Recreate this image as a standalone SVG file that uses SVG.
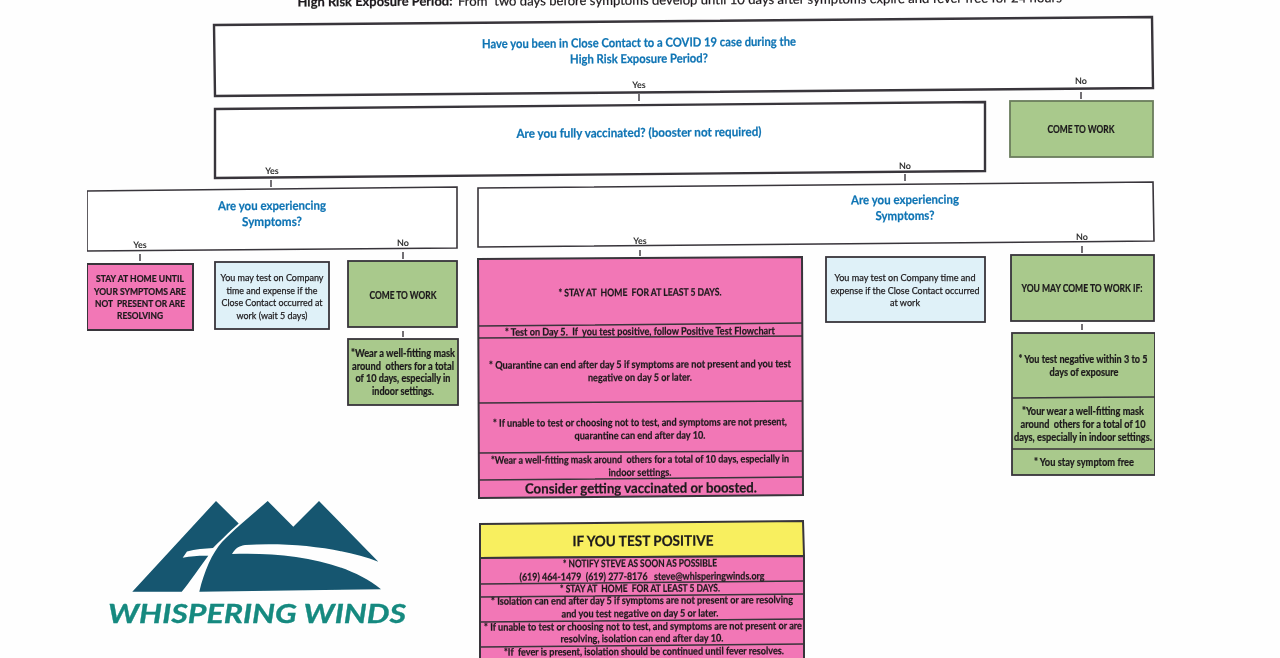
<svg xmlns="http://www.w3.org/2000/svg" width="1280" height="658" viewBox="0 0 1280 658">
<style>
text{font-family:Lato,"Open Sans","Liberation Sans",sans-serif;font-weight:700;text-anchor:middle;fill:#1d1a1c;stroke:#1d1a1c;stroke-width:.22;font-size:10.5px;white-space:pre}
.q{fill:#0f74b4;stroke:#0f74b4;font-size:12.5px}
.n{font-weight:400;font-size:10px;stroke-width:.25}
.b{stroke:#38343a;fill:none}
.w{fill:#fff;stroke-width:2.4}
.t{fill:#fff;stroke-width:1.6}
.p{fill:#f277b6;stroke-width:2}
.g{fill:#a9c98c;stroke-width:1.8}
.l{fill:#dff1f8;stroke-width:1.8}
.y{fill:#f8ef5f;stroke-width:2}
.d{stroke:#38343a;stroke-width:1.5;fill:none}
.c{stroke:#38343a;stroke-width:1.4;fill:none}
.s{font-size:9px;fill:#333;stroke:none}
</style>
<defs><filter id="scan" x="0" y="0" width="1" height="1"><feGaussianBlur stdDeviation="0.35"/></filter></defs>
<rect width="1280" height="658" fill="#fefefe"/>
<g id="diagram" filter="url(#scan)">
<g id="header">
<text x="375" y="6" textLength="155" lengthAdjust="spacingAndGlyphs" style="font-size:13px" transform="rotate(-0.35 375 6)">High Risk Exposure Period:</text>
<text x="760" y="4" textLength="604" lengthAdjust="spacingAndGlyphs" style="font-size:13px;font-weight:400" transform="rotate(-0.35 760 4)">From  two days before symptoms develop until 10 days after symptoms expire and fever free for 24 hours</text>
</g>
<g id="q-close-contact">
<polygon class="b w" points="214,25 1152,17 1153,88 215,96"/>
<text class="q" x="639" y="47" textLength="314" lengthAdjust="spacingAndGlyphs" transform="rotate(-0.45 639 47)">Have you been in Close Contact to a COVID 19 case during the</text>
<text class="q" x="639" y="63" textLength="138" lengthAdjust="spacingAndGlyphs" transform="rotate(-0.45 639 63)">High Risk Exposure Period?</text>
</g>
<g id="q-vaccinated">
<polygon class="b w" points="215,109 985,102 985,171 215,178"/>
<text class="q" x="639" y="137" textLength="245" lengthAdjust="spacingAndGlyphs" transform="rotate(-0.45 639 137)">Are you fully vaccinated? (booster not required)</text>
</g>
<g id="come-to-work-top">
<rect class="b g" x="1010" y="101" width="143" height="56" style="stroke:#6b7d5c"/>
<text x="1081" y="133" textLength="67" lengthAdjust="spacingAndGlyphs">COME TO WORK</text>
</g>
<g id="q-symptoms-left">
<polygon class="b t" points="87,191 457,187 457,248 87,251"/>
<text class="q" x="272" y="210" textLength="108" lengthAdjust="spacingAndGlyphs" transform="rotate(-0.3 272 210)">Are you experiencing</text>
<text class="q" x="272" y="226" textLength="60" lengthAdjust="spacingAndGlyphs" transform="rotate(-0.3 272 226)">Symptoms?</text>
</g>
<g id="q-symptoms-right">
<polygon class="b t" points="478,188 1153,182 1154,241 478,247"/>
<text class="q" x="905" y="204" textLength="108" lengthAdjust="spacingAndGlyphs" transform="rotate(-0.45 905 204)">Are you experiencing</text>
<text class="q" x="905" y="220" textLength="59" lengthAdjust="spacingAndGlyphs" transform="rotate(-0.45 905 220)">Symptoms?</text>
</g>
<g id="stay-home-left">
<rect class="b p" x="87" y="264" width="106" height="66"/>
<text x="140" y="282" textLength="88" lengthAdjust="spacingAndGlyphs" style="font-size:9.5px">STAY AT HOME UNTIL</text>
<text x="140" y="295" textLength="92" lengthAdjust="spacingAndGlyphs" style="font-size:9.5px">YOUR SYMPTOMS ARE</text>
<text x="140" y="307" textLength="90" lengthAdjust="spacingAndGlyphs" style="font-size:9.5px">NOT  PRESENT OR ARE</text>
<text x="140" y="319" textLength="46" lengthAdjust="spacingAndGlyphs" style="font-size:9.5px">RESOLVING</text>
</g>
<g id="test-company-left">
<rect class="b l" x="215" y="262" width="114" height="67"/>
<text class="n" x="272" y="281" textLength="103" lengthAdjust="spacingAndGlyphs">You may test on Company</text>
<text class="n" x="272" y="294" textLength="91" lengthAdjust="spacingAndGlyphs">time and expense if the</text>
<text class="n" x="272" y="306" textLength="101" lengthAdjust="spacingAndGlyphs">Close Contact occurred at</text>
<text class="n" x="272" y="319" textLength="71" lengthAdjust="spacingAndGlyphs">work (wait 5 days)</text>
</g>
<g id="come-to-work-left">
<rect class="b g" x="348" y="261" width="109" height="66"/>
<text x="403" y="299" textLength="67" lengthAdjust="spacingAndGlyphs">COME TO WORK</text>
</g>
<g id="mask-left">
<rect class="b g" x="348" y="339" width="110" height="66"/>
<text x="403" y="357" textLength="104" lengthAdjust="spacingAndGlyphs">*Wear a well-fitting mask</text>
<text x="403" y="370" textLength="102" lengthAdjust="spacingAndGlyphs">around  others for a total</text>
<text x="403" y="382" textLength="95" lengthAdjust="spacingAndGlyphs">of 10 days, especially in</text>
<text x="403" y="395" textLength="62" lengthAdjust="spacingAndGlyphs">indoor settings.</text>
</g>
<g id="stay-home-center">
<polygon class="b p" points="478,259 802,257 803,495 479,498"/>
<path class="d" d="M478,326L802,323M478,338L802,336M478,403L803,401M478,453L803,451M479,480L803,477"/>
<text x="640" y="296" textLength="163" lengthAdjust="spacingAndGlyphs" transform="rotate(-0.3 640 296)">* STAY AT  HOME  FOR AT LEAST 5 DAYS.</text>
<text x="640" y="335" textLength="270" lengthAdjust="spacingAndGlyphs" transform="rotate(-0.3 640 335)">* Test on Day 5.  If  you test positive, follow Positive Test Flowchart</text>
<text x="640" y="368" textLength="302" lengthAdjust="spacingAndGlyphs" transform="rotate(-0.3 640 368)">* Quarantine can end after day 5 if symptoms are not present and you test</text>
<text x="640" y="381" textLength="104" lengthAdjust="spacingAndGlyphs" transform="rotate(-0.3 640 381)">negative on day 5 or later.</text>
<text x="640" y="426" textLength="294" lengthAdjust="spacingAndGlyphs" transform="rotate(-0.3 640 426)">* If unable to test or choosing not to test, and symptoms are not present,</text>
<text x="640" y="439" textLength="131" lengthAdjust="spacingAndGlyphs" transform="rotate(-0.3 640 439)">quarantine can end after day 10.</text>
<text x="640" y="463" textLength="298" lengthAdjust="spacingAndGlyphs" transform="rotate(-0.3 640 463)">*Wear a well-fitting mask around  others for a total of 10 days, especially in</text>
<text x="640" y="476" textLength="63" lengthAdjust="spacingAndGlyphs" transform="rotate(-0.3 640 476)">indoor settings.</text>
<text x="641" y="493" textLength="232" lengthAdjust="spacingAndGlyphs" style="font-size:14px" transform="rotate(-0.3 641 493)">Consider getting vaccinated or boosted.</text>
</g>
<g id="test-company-right">
<rect class="b l" x="826" y="257" width="159" height="65"/>
<text class="n" x="905" y="281" textLength="141" lengthAdjust="spacingAndGlyphs">You may test on Company time and</text>
<text class="n" x="905" y="294" textLength="149" lengthAdjust="spacingAndGlyphs">expense if the Close Contact occurred</text>
<text class="n" x="905" y="306" textLength="30" lengthAdjust="spacingAndGlyphs">at work</text>
</g>
<g id="may-come-to-work">
<rect class="b g" x="1011" y="255" width="143" height="66"/>
<text x="1082" y="292" textLength="121" lengthAdjust="spacingAndGlyphs">YOU MAY COME TO WORK IF:</text>
</g>
<g id="work-conditions">
<rect class="b g" x="1012" y="333" width="143" height="142"/>
<path class="d" d="M1012,398L1155,397M1012,449L1155,449"/>
<text x="1083" y="363" textLength="129" lengthAdjust="spacingAndGlyphs">* You test negative within 3 to 5</text>
<text x="1084" y="376" textLength="69" lengthAdjust="spacingAndGlyphs">days of exposure</text>
<text x="1083" y="415" textLength="122" lengthAdjust="spacingAndGlyphs">*Your wear a well-fitting mask</text>
<text x="1083" y="428" textLength="125" lengthAdjust="spacingAndGlyphs">around  others for a total of 10</text>
<text x="1083" y="441" textLength="138" lengthAdjust="spacingAndGlyphs">days, especially in indoor settings.</text>
<text x="1084" y="466" textLength="100" lengthAdjust="spacingAndGlyphs">* You stay symptom free</text>
</g>
<g id="if-test-positive">
<polygon class="b y" points="480,524 803,521 804,556 480,558"/>
<polygon class="b p" points="480,558 804,556 804,660 480,662"/>
<path class="d" d="M480,584L804,581M480,597L804,594M480,622L804,619M480,647L804,644"/>
<text x="643" y="546" textLength="141" lengthAdjust="spacingAndGlyphs" style="font-size:14.5px" transform="rotate(-0.3 643 546)">IF YOU TEST POSITIVE</text>
<text x="640" y="567" textLength="154" lengthAdjust="spacingAndGlyphs" transform="rotate(-0.3 640 567)">* NOTIFY STEVE AS SOON AS POSSIBLE</text>
<text x="642" y="580" textLength="245" lengthAdjust="spacingAndGlyphs" transform="rotate(-0.3 642 580)">(619) 464-1479  (619) 277-8176   steve@whisperingwinds.org</text>
<text x="640" y="592" textLength="160" lengthAdjust="spacingAndGlyphs" transform="rotate(-0.3 640 592)">* STAY AT  HOME  FOR AT LEAST 5 DAYS.</text>
<text x="642" y="604" textLength="302" lengthAdjust="spacingAndGlyphs" transform="rotate(-0.3 642 604)">* Isolation can end after day 5 if symptoms are not present or are resolving</text>
<text x="640" y="617" textLength="157" lengthAdjust="spacingAndGlyphs" transform="rotate(-0.3 640 617)">and you test negative on day 5 or later.</text>
<text x="643" y="630" textLength="318" lengthAdjust="spacingAndGlyphs" transform="rotate(-0.3 643 630)">* If unable to test or choosing not to test, and symptoms are not present or are</text>
<text x="642" y="642" textLength="163" lengthAdjust="spacingAndGlyphs" transform="rotate(-0.3 642 642)">resolving, isolation can end after day 10.</text>
<text x="644" y="655" textLength="280" lengthAdjust="spacingAndGlyphs" transform="rotate(-0.3 644 655)">*If  fever is present, isolation should be continued until fever resolves.</text>
</g>
<g id="logo">
<path fill="#14566f" d="M132.3,591.7L216,501L238.7,523.5C228,533 220,541 213,548C205,548.5 195,549 187,551.5L182.7,557.7C192,556 200,555.5 208.3,555.7C199,568 190,582 181.7,591.7Z"/>
<path fill="#14566f" d="M199.3,591.7C204,572 212,553 222,542C228,536 234,530 240,525L267.7,501L293.3,526.7L319,501L378.3,561.7C345,549 295,542 245,545C238,546 235,549 232,554C285,552 345,560 381,589.3Z"/>
<text x="257" y="623" textLength="298" lengthAdjust="spacingAndGlyphs" style="font-size:26px;font-style:italic;fill:#13897f;stroke:#13897f;stroke-width:.3">WHISPERING WINDS</text>
</g>
<g id="connectors">
<path class="c" d="M639 94V101M1081 92V99M271 180V187M905 174V181M140 254V261M403 252V259M403 331V337M640 250V256M1082 246V253M1082 324V330"/>
<text class="s" x="639" y="88" transform="rotate(-0.45 639 88)">Yes</text>
<text class="s" x="1081" y="84" transform="rotate(-0.45 1081 84)">No</text>
<text class="s" x="272" y="174" transform="rotate(-0.45 272 174)">Yes</text>
<text class="s" x="905" y="169" transform="rotate(-0.45 905 169)">No</text>
<text class="s" x="140" y="248" transform="rotate(-0.45 140 248)">Yes</text>
<text class="s" x="403" y="246" transform="rotate(-0.45 403 246)">No</text>
<text class="s" x="640" y="244" transform="rotate(-0.45 640 244)">Yes</text>
<text class="s" x="1082" y="240" transform="rotate(-0.45 1082 240)">No</text>
</g>
</g>
</svg>
